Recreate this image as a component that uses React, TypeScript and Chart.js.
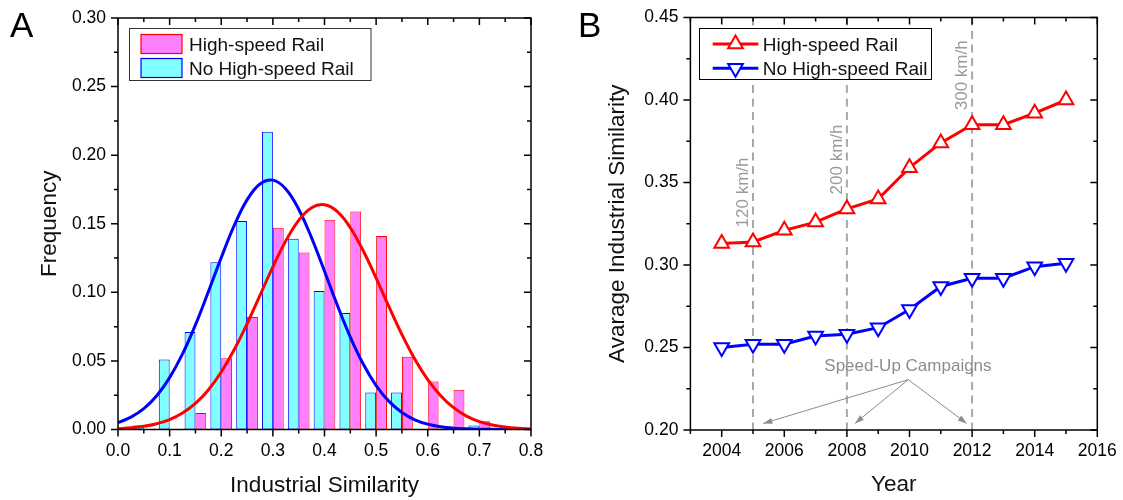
import React, { useEffect, useRef } from 'react';
import { Chart, registerables } from 'chart.js';
Chart.register(...registerables);

const FONT = "'Liberation Sans', Arial, Helvetica, sans-serif";

// ---------- Panel A data ----------
const binCenters = [0.05, 0.1, 0.15, 0.2, 0.25, 0.3, 0.35, 0.4, 0.45, 0.5, 0.55, 0.6, 0.65, 0.7];
const noHsrFreq = [0.003, 0.051, 0.071, 0.122, 0.152, 0.217, 0.139, 0.101, 0.085, 0.027, 0.027, 0, 0, 0.003];
const hsrFreq = [0, 0, 0.012, 0.052, 0.082, 0.147, 0.129, 0.153, 0.159, 0.141, 0.053, 0.035, 0.029, 0.006];
const fitX = [0, 0.025, 0.05, 0.075, 0.1, 0.125, 0.15, 0.175, 0.2, 0.225, 0.25, 0.275, 0.3, 0.325, 0.35, 0.375, 0.4,
  0.425, 0.45, 0.475, 0.5, 0.525, 0.55, 0.575, 0.6, 0.625, 0.65, 0.675, 0.7, 0.725, 0.75, 0.775, 0.8];
const noHsrFit = [0.005, 0.009, 0.0152, 0.0246, 0.0378, 0.0551, 0.0763, 0.1004, 0.1253, 0.1486, 0.1674, 0.179, 0.1818,
  0.1754, 0.1606, 0.1397, 0.1154, 0.0905, 0.0674, 0.0477, 0.032, 0.0205, 0.0124, 0.0071, 0.0039, 0.002, 0.001, 0.0005,
  0.0002, 0.0001, 0, 0, 0];
const hsrFit = [0.0006, 0.0012, 0.0023, 0.0042, 0.0072, 0.012, 0.019, 0.0288, 0.0419, 0.0581, 0.0771, 0.0978, 0.1186,
  0.1375, 0.1525, 0.1617, 0.1638, 0.1588, 0.1471, 0.1303, 0.1104, 0.0894, 0.0692, 0.0512, 0.0363, 0.0246, 0.0159,
  0.0098, 0.0058, 0.0033, 0.0018, 0.0009, 0.0004];

// ---------- Panel B data ----------
const years = [2004, 2005, 2006, 2007, 2008, 2009, 2010, 2011, 2012, 2013, 2014, 2015];
const hsrAvg = [0.313, 0.314, 0.321, 0.326, 0.334, 0.34, 0.359, 0.374, 0.385, 0.385, 0.392, 0.4];
const noHsrAvg = [0.25, 0.252, 0.252, 0.257, 0.258, 0.262, 0.273, 0.287, 0.292, 0.292, 0.299, 0.301];
const campaignYears = [2005, 2008, 2012];
const campaignLabels = ['120 km/h', '200 km/h', '300 km/h'];
const campaignTitle = 'Speed-Up Campaigns';
const seriesNames = ['High-speed Rail', 'No High-speed Rail'];

const RED = '#ff0000';
const BLUE = '#0000ff';
const PINK = '#ff80ff';
const CYAN = '#80ffff';

function tickSets(scale: any, majorTest: ((v: number) => boolean) | null, midMinor: boolean) {
  const vals: number[] = scale.ticks.map((t: any) => t.value);
  const major: number[] = [];
  const minor: number[] = [];
  vals.forEach((v) => {
    if (!majorTest || majorTest(v)) major.push(v);
    else minor.push(v);
  });
  if (midMinor) for (let i = 0; i < vals.length - 1; i++) minor.push((vals[i] + vals[i + 1]) / 2);
  return { major, minor };
}

function drawBox(chart: any, xs: any, ys: any) {
  const { ctx, chartArea } = chart;
  const { left, right, top, bottom } = chartArea;
  const { x, y } = chart.scales;
  ctx.save();
  ctx.strokeStyle = '#000';
  ctx.lineWidth = 1.5;
  ctx.beginPath();
  const seg = (a: number, b: number, c: number, d: number) => { ctx.moveTo(a, b); ctx.lineTo(c, d); };
  const MAJ = 7, MIN = 4;
  xs.major.forEach((v: number) => { const p = x.getPixelForValue(v); seg(p, bottom, p, bottom + MAJ); seg(p, top, p, top + MAJ); });
  xs.minor.forEach((v: number) => { const p = x.getPixelForValue(v); seg(p, bottom, p, bottom + MIN); seg(p, top, p, top + MIN); });
  ys.major.forEach((v: number) => { const p = y.getPixelForValue(v); seg(left, p, left - MAJ, p); seg(right, p, right - MAJ, p); });
  ys.minor.forEach((v: number) => { const p = y.getPixelForValue(v); seg(left, p, left - MIN, p); seg(right, p, right - MIN, p); });
  ctx.stroke();
  ctx.strokeRect(left, top, right - left, bottom - top);
  ctx.restore();
}

function triangle(ctx: any, cx: number, cy: number, r: number, rotDeg: number) {
  let a = (rotDeg * Math.PI) / 180;
  ctx.beginPath();
  for (let i = 0; i < 3; i++) {
    const px = cx + Math.sin(a) * r;
    const py = cy - Math.cos(a) * r;
    if (i === 0) ctx.moveTo(px, py); else ctx.lineTo(px, py);
    a += (2 * Math.PI) / 3;
  }
  ctx.closePath();
}

const tickFont = { family: FONT, size: 17.5 };
const titleFont = { family: FONT, size: 22.5, lineHeight: 1.2 };
const noGrid = { display: false, drawTicks: false };

const fixX = (h: number) => (s: any) => { s.height = h; s.paddingLeft = 0; s.paddingRight = 0; };
const fixY = (w: number) => (s: any) => { s.width = w; s.paddingTop = 0; s.paddingBottom = 0; };

function PanelA() {
  const ref = useRef<HTMLCanvasElement>(null);
  useEffect(() => {
    const boxPlugin = {
      id: 'boxA',
      afterDraw(chart: any) {
        const { ctx } = chart;
        drawBox(chart, tickSets(chart.scales.x, null, true), tickSets(chart.scales.y, null, true));
        ctx.save();
        ctx.fillStyle = '#fff';
        ctx.fillRect(129.5, 28.5, 241.5, 52);
        ctx.strokeStyle = '#333';
        ctx.lineWidth = 1;
        ctx.strokeRect(129.5, 28.5, 241.5, 52);
        const sw = [[PINK, RED, 34.5], [CYAN, BLUE, 58.5]] as any[];
        sw.forEach(([f, s, yy]) => {
          ctx.fillStyle = f; ctx.fillRect(141, yy, 41, 19);
          ctx.strokeStyle = s; ctx.lineWidth = 1.2; ctx.strokeRect(141, yy, 41, 19);
        });
        ctx.fillStyle = '#111';
        ctx.font = `19px ${FONT}`;
        ctx.textBaseline = 'alphabetic';
        ctx.textAlign = 'left';
        ctx.fillText(seriesNames[0], 189, 50.5);
        ctx.fillText(seriesNames[1], 189, 74.5);
        ctx.fillStyle = '#000';
        ctx.font = `35px ${FONT}`;
        ctx.fillText('A', 10, 37);
        ctx.restore();
      },
    };
    const chart = new Chart(ref.current as HTMLCanvasElement, {
      type: 'bar',
      data: {
        datasets: [
          { type: 'line', label: seriesNames[0], data: fitX.map((x, i) => ({ x, y: hsrFit[i] })), borderColor: RED, borderWidth: 3, pointRadius: 0, tension: 0.4, order: 0 } as any,
          { type: 'line', label: seriesNames[1], data: fitX.map((x, i) => ({ x, y: noHsrFit[i] })), borderColor: BLUE, borderWidth: 3, pointRadius: 0, tension: 0.4, order: 0 } as any,
          { type: 'bar', label: seriesNames[1], data: binCenters.map((x, i) => ({ x, y: noHsrFreq[i] })), backgroundColor: CYAN, borderColor: BLUE, borderWidth: 1, borderSkipped: false, categoryPercentage: 0.84, barPercentage: 1, order: 1 } as any,
          { type: 'bar', label: seriesNames[0], data: binCenters.map((x, i) => ({ x, y: hsrFreq[i] })), backgroundColor: PINK, borderColor: RED, borderWidth: 1, borderSkipped: false, categoryPercentage: 0.84, barPercentage: 1, order: 1 } as any,
        ],
      },
      options: {
        animation: false,
        responsive: false,
        layout: { padding: { left: 0, top: 18, right: 29, bottom: 0 } },
        plugins: { legend: { display: false }, tooltip: { enabled: false } },
        scales: {
          x: {
            type: 'linear', min: 0, max: 0.8, offset: false,
            grid: noGrid, border: { display: false },
            ticks: { stepSize: 0.1, padding: 11, font: tickFont, color: '#000', maxRotation: 0, autoSkip: false, callback: (v: any) => Number(v).toFixed(1) },
            title: { display: true, text: 'Industrial Similarity', font: titleFont, color: '#111', padding: { top: 0, bottom: 0.5 } },
            afterFit: fixX(70.5),
          },
          y: {
            type: 'linear', min: 0, max: 0.3,
            grid: noGrid, border: { display: false },
            ticks: { stepSize: 0.05, padding: 12, font: tickFont, color: '#000', callback: (v: any) => Number(v).toFixed(2) },
            title: { display: true, text: 'Frequency', font: titleFont, color: '#111', padding: { top: 36.5, bottom: 0 } },
            afterFit: fixY(118),
          },
        },
      } as any,
      plugins: [boxPlugin],
    });
    return () => chart.destroy();
  }, []);
  return <canvas ref={ref} width={560} height={500} style={{ position: 'absolute', left: 0, top: 0 }} />;
}

function PanelB() {
  const ref = useRef<HTMLCanvasElement>(null);
  useEffect(() => {
    const arrowOffsets = [0.33, 0.26, -0.17];
    const annPlugin = {
      id: 'annB',
      beforeDatasetsDraw(chart: any) {
        const { ctx, chartArea } = chart;
        const { x, y } = chart.scales;
        ctx.save();
        ctx.strokeStyle = '#a8a8a8';
        ctx.lineWidth = 2;
        ctx.setLineDash([8, 5.5]);
        campaignYears.forEach((yr) => {
          const px = x.getPixelForValue(yr);
          ctx.beginPath(); ctx.moveTo(px, chartArea.top); ctx.lineTo(px, chartArea.bottom); ctx.stroke();
        });
        ctx.setLineDash([]);
        ctx.fillStyle = '#9a9a9a';
        ctx.font = `17px ${FONT}`;
        ctx.textAlign = 'left';
        ctx.textBaseline = 'middle';
        campaignYears.forEach((yr, i) => {
          const px = x.getPixelForValue(yr) - 10;
          const idx = years.indexOf(yr);
          const py = y.getPixelForValue(hsrAvg[idx]) - 14.5;
          ctx.save(); ctx.translate(px, py); ctx.rotate(-Math.PI / 2); ctx.fillText(campaignLabels[i], 0, 0); ctx.restore();
        });
        ctx.fillStyle = '#8c8c8c';
        ctx.textAlign = 'center';
        ctx.fillText(campaignTitle, x.getPixelForValue(2009.95), y.getPixelForValue(0.2383));
        const sx = x.getPixelForValue(2009.96), sy = y.getPixelForValue(0.2305);
        ctx.strokeStyle = '#8c8c8c';
        ctx.fillStyle = '#8c8c8c';
        ctx.lineWidth = 1;
        campaignYears.forEach((yr, i) => {
          const ex = x.getPixelForValue(yr + arrowOffsets[i]), ey = y.getPixelForValue(0.204);
          const ang = Math.atan2(ey - sy, ex - sx);
          ctx.beginPath(); ctx.moveTo(sx, sy); ctx.lineTo(ex, ey); ctx.stroke();
          ctx.beginPath();
          ctx.moveTo(ex, ey);
          ctx.lineTo(ex - 9 * Math.cos(ang) + 3 * Math.sin(ang), ey - 9 * Math.sin(ang) - 3 * Math.cos(ang));
          ctx.lineTo(ex - 9 * Math.cos(ang) - 3 * Math.sin(ang), ey - 9 * Math.sin(ang) + 3 * Math.cos(ang));
          ctx.closePath(); ctx.fill();
        });
        ctx.restore();
      },
      afterDraw(chart: any) {
        const { ctx } = chart;
        drawBox(chart, tickSets(chart.scales.x, (v) => v % 2 === 0, false), tickSets(chart.scales.y, null, true));
        ctx.save();
        ctx.fillStyle = '#fff';
        ctx.fillRect(139.5, 28.5, 232, 51);
        ctx.strokeStyle = '#000';
        ctx.lineWidth = 1;
        ctx.strokeRect(139.5, 28.5, 232, 51);
        const rows = [[RED, 44, 0, 50.7], [BLUE, 68.3, 180, 75]] as any[];
        rows.forEach(([c, yy, rot, base], i) => {
          ctx.strokeStyle = c; ctx.lineWidth = 3;
          ctx.beginPath(); ctx.moveTo(152.7, yy); ctx.lineTo(198.3, yy); ctx.stroke();
          triangle(ctx, 175.5, yy, 8.5, rot);
          ctx.fillStyle = '#fff'; ctx.fill(); ctx.lineWidth = 2; ctx.stroke();
          ctx.fillStyle = '#111';
          ctx.font = `19px ${FONT}`;
          ctx.textAlign = 'left'; ctx.textBaseline = 'alphabetic';
          ctx.fillText(seriesNames[i], 202.7, base);
        });
        ctx.fillStyle = '#000';
        ctx.font = `35px ${FONT}`;
        ctx.fillText('B', 18, 37);
        ctx.restore();
      },
    };
    const chart = new Chart(ref.current as HTMLCanvasElement, {
      type: 'line',
      data: {
        datasets: [
          { label: seriesNames[0], data: years.map((x, i) => ({ x, y: hsrAvg[i] })), borderColor: RED, borderWidth: 3, pointStyle: 'triangle', pointRadius: 8.5, pointBorderWidth: 2, pointBackgroundColor: '#fff', pointBorderColor: RED, tension: 0 },
          { label: seriesNames[1], data: years.map((x, i) => ({ x, y: noHsrAvg[i] })), borderColor: BLUE, borderWidth: 3, pointStyle: 'triangle', pointRotation: 180, pointRadius: 8.5, pointBorderWidth: 2, pointBackgroundColor: '#fff', pointBorderColor: BLUE, tension: 0 },
        ],
      },
      options: {
        animation: false,
        responsive: false,
        layout: { padding: { left: 0, top: 17.5, right: 25.7, bottom: 0 } },
        plugins: { legend: { display: false }, tooltip: { enabled: false } },
        scales: {
          x: {
            type: 'linear', min: 2003, max: 2016,
            grid: noGrid, border: { display: false },
            ticks: { stepSize: 1, padding: 11, font: tickFont, color: '#000', maxRotation: 0, autoSkip: false, callback: (v: any) => (Number(v) % 2 === 0 ? String(v) : '') },
            title: { display: true, text: 'Year', font: titleFont, color: '#111', padding: { top: 0, bottom: 1.5 } },
            afterFit: fixX(70),
          },
          y: {
            type: 'linear', min: 0.2, max: 0.45,
            grid: noGrid, border: { display: false },
            ticks: { stepSize: 0.05, padding: 12, font: tickFont, color: '#000', callback: (v: any) => Number(v).toFixed(2) },
            title: { display: true, text: 'Avarage Industrial Similarity', font: titleFont, color: '#111', padding: { top: 44.5, bottom: 0 } },
            afterFit: fixY(130.4),
          },
        },
      } as any,
      plugins: [annPlugin],
    });
    return () => chart.destroy();
  }, []);
  return <canvas ref={ref} width={563} height={500} style={{ position: 'absolute', left: 560, top: 0 }} />;
}

export default function App() {
  return (
    <div style={{ position: 'fixed', left: 0, top: 0, width: 1123, height: 500, background: '#fff', fontFamily: FONT }}>
      <PanelA />
      <PanelB />
    </div>
  );
}
